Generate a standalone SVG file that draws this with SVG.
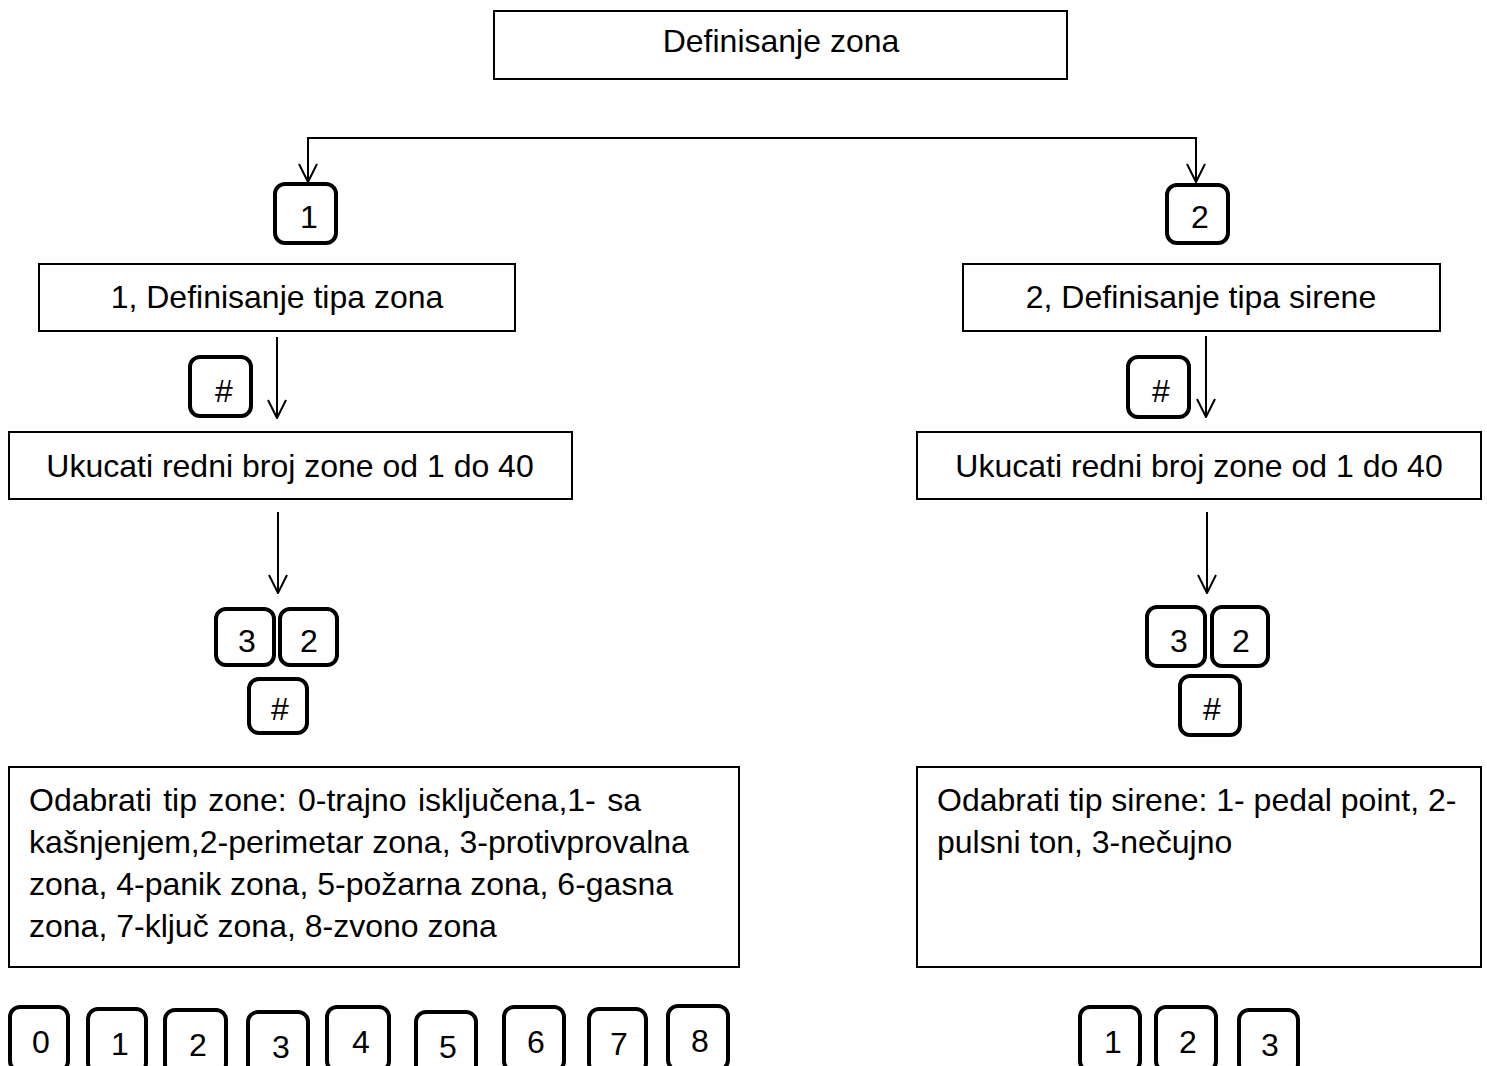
<svg xmlns="http://www.w3.org/2000/svg" width="1487" height="1066" viewBox="0 0 1487 1066">
<style>
.box{fill:#fff;stroke:#000;stroke-width:2}
.key{fill:#fff;stroke:#000;stroke-width:4}
.t{font-family:"Liberation Sans",Arial,sans-serif;font-size:32px;fill:#000}
.c{text-anchor:middle}
.conn{fill:none;stroke:#000;stroke-width:2}
</style>
<defs>
<marker id="arr" viewBox="0 0 20 20" refX="19" refY="10" markerWidth="20" markerHeight="20" markerUnits="userSpaceOnUse" orient="auto">
<path d="M1,1 L19,10 L1,19" fill="none" stroke="#000" stroke-width="2"/>
</marker>
</defs>
<rect width="1487" height="1066" fill="#fff"/>
<g id="connectors">
<path class="conn" d="M752,138 H308 V182" marker-end="url(#arr)"/>
<path class="conn" d="M752,138 H1196 V182" marker-end="url(#arr)"/>
<path class="conn" d="M277,337 V418" marker-end="url(#arr)"/>
<path class="conn" d="M278,512 V593" marker-end="url(#arr)"/>
<path class="conn" d="M1206,336 V417" marker-end="url(#arr)"/>
<path class="conn" d="M1207,512 V593" marker-end="url(#arr)"/>
</g>
<g id="n-top"><rect class="box" x="494" y="11" width="573" height="68"/><text class="t c" x="781" y="52">Definisanje zona</text></g>
<g id="k-top1"><rect class="key" x="275" y="184" width="61" height="59" rx="10"/><text class="t c" x="309" y="228">1</text></g>
<g id="k-top2"><rect class="key" x="1167" y="185" width="61" height="58" rx="10"/><text class="t c" x="1200" y="228">2</text></g>
<g id="n-tip-zona"><rect class="box" x="39" y="264" width="476" height="67"/><text class="t c" x="277" y="308">1, Definisanje tipa zona</text></g>
<g id="n-tip-sirene"><rect class="box" x="963" y="264" width="477" height="67"/><text class="t c" x="1201" y="308">2, Definisanje tipa sirene</text></g>
<g id="k-hashL"><rect class="key" x="190" y="357" width="61" height="59" rx="10"/><text class="t c" x="224" y="402">#</text></g>
<g id="k-hashR"><rect class="key" x="1128" y="357" width="61" height="60" rx="10"/><text class="t c" x="1161" y="402">#</text></g>
<g id="n-redni-L"><rect class="box" x="9" y="432" width="563" height="67"/><text class="t c" x="290" y="477">Ukucati redni broj zone od 1 do 40</text></g>
<g id="n-redni-R"><rect class="box" x="917" y="432" width="564" height="67"/><text class="t c" x="1199" y="477">Ukucati redni broj zone od 1 do 40</text></g>
<g id="k-32L">
<rect class="key" x="216" y="609" width="58" height="56" rx="10"/><text class="t c" x="247" y="652">3</text>
<rect class="key" x="280" y="609" width="57" height="56" rx="10"/><text class="t c" x="309" y="652">2</text>
<rect class="key" x="249" y="679" width="58" height="54" rx="10"/><text class="t c" x="280" y="720">#</text>
</g>
<g id="k-32R">
<rect class="key" x="1147" y="607" width="58" height="59" rx="10"/><text class="t c" x="1179" y="652">3</text>
<rect class="key" x="1212" y="607" width="56" height="59" rx="10"/><text class="t c" x="1241" y="652">2</text>
<rect class="key" x="1180" y="676" width="60" height="59" rx="10"/><text class="t c" x="1212" y="720">#</text>
</g>
<g id="n-odabrati-zona"><rect class="box" x="9" y="767" width="730" height="200"/>
<text class="t" x="29" y="811" word-spacing="2.5">Odabrati tip zone: 0-trajno isključena,1- sa</text>
<text class="t" x="29" y="853">kašnjenjem,2-perimetar zona, 3-protivprovalna</text>
<text class="t" x="29" y="895">zona, 4-panik zona, 5-požarna zona, 6-gasna</text>
<text class="t" x="29" y="937">zona, 7-ključ zona, 8-zvono zona</text>
</g>
<g id="n-odabrati-sirena"><rect class="box" x="917" y="767" width="564" height="200"/>
<text class="t" x="937" y="811">Odabrati tip sirene: 1- pedal point, 2-</text>
<text class="t" x="937" y="853">pulsni ton, 3-nečujno</text>
</g>
<g id="k-bottomL">
<rect class="key" x="10" y="1007" width="58" height="64" rx="10"/><text class="t c" x="41" y="1053">0</text>
<rect class="key" x="88" y="1009" width="58" height="64" rx="10"/><text class="t c" x="120" y="1055">1</text>
<rect class="key" x="165" y="1010" width="61" height="64" rx="10"/><text class="t c" x="198" y="1056">2</text>
<rect class="key" x="248" y="1012" width="60" height="64" rx="10"/><text class="t c" x="281" y="1058">3</text>
<rect class="key" x="327" y="1007" width="62" height="64" rx="10"/><text class="t c" x="361" y="1053">4</text>
<rect class="key" x="416" y="1012" width="60" height="64" rx="10"/><text class="t c" x="448" y="1058">5</text>
<rect class="key" x="504" y="1007" width="60" height="64" rx="10"/><text class="t c" x="536" y="1053">6</text>
<rect class="key" x="589" y="1009" width="57" height="64" rx="10"/><text class="t c" x="619" y="1055">7</text>
<rect class="key" x="668" y="1006" width="60" height="64" rx="10"/><text class="t c" x="700" y="1052">8</text>
</g>
<g id="k-bottomR">
<rect class="key" x="1080" y="1007" width="60" height="64" rx="10"/><text class="t c" x="1113" y="1053">1</text>
<rect class="key" x="1156" y="1007" width="60" height="64" rx="10"/><text class="t c" x="1188" y="1053">2</text>
<rect class="key" x="1239" y="1010" width="59" height="64" rx="10"/><text class="t c" x="1270" y="1056">3</text>
</g>
</svg>
